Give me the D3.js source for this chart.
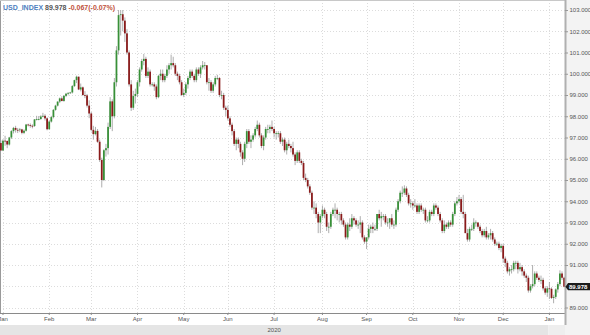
<!DOCTYPE html>
<html><head><meta charset="utf-8">
<script src="https://cdn.jsdelivr.net/npm/d3@7"></script>
<style>body{margin:0;background:#fff}svg{display:block}</style>
</head><body>
<svg id="c" width="590" height="335"></svg>
<script>
// ---- data ----
const symbol = "USD_INDEX";
const lastPrice = "89.978";
const change = "-0.067(-0.07%)";
const firstDay = "2019-12-31", lastDay = "2021-01-13";
const holidays = ["2020-01-01", "2020-12-25", "2021-01-01"];
const yTicks = [89, 90, 91, 92, 93, 94, 95, 96, 97, 98, 99, 100, 101, 102, 103];

const opens = [96.74,
 96.39,96.85,96.84,96.67,97.00,97.30,97.45,97.36,97.35,97.38,97.22,97.32,97.61,97.58,97.55,97.54,97.85,97.87,97.87,97.99,98.02,97.90,
 97.39,97.75,97.96,98.30,98.50,98.69,98.84,98.72,98.96,99.06,99.10,99.12,99.42,99.70,99.86,99.26,99.36,99.00,98.98,98.50,
 98.13,97.36,97.16,97.31,96.80,95.94,95.00,96.40,96.50,97.50,98.70,98.00,99.60,101.10,102.76,102.80,102.50,101.90,101.00,99.50,98.40,98.95,
 99.05,99.60,100.20,100.60,100.70,99.90,100.10,99.50,99.50,99.40,98.90,99.90,100.00,99.70,99.90,100.20,100.40,100.50,100.40,100.00,99.90,99.60,
 99.00,99.10,99.50,99.80,100.10,99.90,99.70,100.20,100.00,100.30,100.40,100.40,99.60,99.60,99.20,99.50,99.80,99.80,99.00,99.00,98.40,
 98.30,97.90,97.60,97.30,96.70,96.90,96.70,96.30,96.00,96.70,97.30,96.80,96.90,97.10,97.40,97.60,97.10,96.60,97.00,97.40,97.40,97.50,
 97.40,97.20,97.20,97.20,96.80,96.90,96.40,96.70,96.60,96.50,96.20,95.90,96.30,95.90,95.80,95.10,95.00,94.70,94.40,93.70,93.70,93.40,93.00,
 93.30,93.60,93.40,92.80,92.80,93.40,93.60,93.60,93.40,93.40,93.10,92.90,92.30,92.90,92.80,93.20,93.10,92.90,92.90,93.00,92.30,
 92.10,92.30,92.70,92.80,92.70,92.70,93.40,93.20,93.30,93.30,93.00,93.00,93.20,92.90,92.90,93.60,94.00,94.40,94.40,94.60,94.30,93.90,
 93.90,93.80,93.80,93.50,93.80,93.60,93.60,93.10,93.10,93.50,93.40,93.80,93.70,93.40,93.10,92.60,92.90,92.80,93.00,92.90,93.40,93.90,
 94.00,94.10,93.50,93.40,92.50,92.20,92.70,92.70,93.00,93.00,92.80,92.60,92.40,92.60,92.30,92.40,92.50,92.20,92.00,92.00,91.80,
 91.90,91.30,91.10,90.70,90.80,90.80,91.10,91.10,90.80,90.90,90.70,90.50,90.40,89.80,90.00,90.10,90.60,90.40,90.30,90.30,89.90,89.70,
 89.90,89.88,89.45,89.50,89.85,90.10,90.60,90.40];

const highs = [96.86,
 96.92,97.08,96.85,97.03,97.35,97.50,97.55,97.45,97.45,97.41,97.38,97.64,97.65,97.66,97.62,97.87,98.02,98.01,98.05,98.16,98.10,97.95,
 97.80,98.02,98.34,98.54,98.70,98.88,98.94,99.00,99.10,99.13,99.15,99.47,99.72,99.91,99.87,99.54,99.40,99.18,99.05,98.75,
 98.20,97.55,97.50,97.40,96.90,96.05,96.45,96.70,97.70,98.90,98.80,99.80,101.30,103.00,102.99,103.00,102.65,102.10,101.10,99.70,99.20,99.30,
 99.70,100.30,100.70,100.93,100.80,100.30,100.20,99.60,99.60,99.50,99.95,100.20,100.20,100.00,100.40,100.50,100.90,100.80,100.50,100.10,100.00,99.70,
 99.30,99.60,99.90,100.20,100.20,100.00,100.30,100.30,100.40,100.60,100.55,100.40,99.80,99.70,99.60,99.90,99.95,99.85,99.20,99.10,98.50,
 98.50,98.00,97.70,97.40,97.00,97.00,96.80,96.40,96.80,97.40,97.40,97.10,97.20,97.50,97.80,97.70,97.20,97.10,97.50,97.60,97.60,97.80,
 97.50,97.30,97.30,97.30,97.00,97.00,96.80,96.90,96.70,96.80,96.30,96.40,96.40,96.00,95.90,95.30,95.10,94.80,94.50,94.00,93.90,93.50,93.40,
 93.80,93.70,93.50,93.00,93.50,93.70,93.90,93.70,93.50,93.50,93.20,93.00,93.00,93.20,93.40,93.30,93.20,93.10,93.30,93.10,92.40,
 92.30,92.90,92.90,93.00,92.90,93.40,93.60,93.50,93.40,93.40,93.20,93.20,93.40,93.10,93.70,94.10,94.50,94.70,94.75,94.70,94.40,94.10,
 94.00,94.10,93.90,93.90,93.90,93.70,93.70,93.30,93.60,93.60,93.90,93.90,93.80,93.50,93.20,93.10,93.00,93.10,93.10,93.50,94.00,94.20,
 94.30,94.20,94.30,93.50,92.70,92.80,92.90,93.20,93.10,93.00,92.90,92.70,92.70,92.80,92.50,92.70,92.60,92.30,92.10,92.10,92.00,
 92.00,91.40,91.20,90.90,91.00,91.20,91.20,91.20,91.10,91.00,90.80,90.60,90.50,90.10,91.00,90.70,90.70,90.50,90.50,90.40,90.00,90.00,
 90.20,89.95,89.60,89.90,90.20,90.75,90.70,90.45];

const lows = [96.36,
 96.36,96.61,96.50,96.62,96.93,97.19,97.23,97.21,97.25,97.15,97.16,97.28,97.52,97.46,97.43,97.50,97.80,97.81,97.83,97.95,97.80,97.34,
 97.37,97.70,97.90,98.26,98.46,98.62,98.70,98.68,98.90,98.98,99.05,99.07,99.38,99.56,99.23,99.17,98.95,98.85,98.41,97.91,
 97.29,96.90,97.10,96.75,95.85,94.65,94.95,96.10,96.20,97.40,97.30,97.90,99.40,100.90,101.80,102.00,101.50,100.90,99.40,98.25,98.30,98.60,
 98.90,99.40,100.10,100.40,99.80,99.80,99.40,99.40,99.20,98.80,98.85,99.70,99.60,99.60,99.80,100.00,100.20,100.30,99.90,99.70,99.50,98.95,
 98.90,99.00,99.30,99.70,99.80,99.60,99.60,99.90,99.80,100.20,100.20,99.50,99.20,99.10,99.10,99.40,99.70,98.90,98.80,98.30,98.00,
 97.80,97.50,97.10,96.60,96.40,96.50,96.10,95.70,95.85,96.50,96.70,96.50,96.80,97.00,97.30,97.00,96.50,96.40,96.90,97.20,97.20,97.30,
 97.00,96.90,97.00,96.70,96.60,96.30,96.20,96.50,96.30,96.10,95.70,95.80,95.80,95.70,95.00,94.90,94.60,94.30,93.60,93.40,93.20,92.50,92.50,
 93.20,93.20,92.60,92.50,92.70,93.30,93.20,93.10,93.00,92.90,92.80,92.20,92.20,92.60,92.70,92.90,92.80,92.70,92.50,92.20,92.00,
 91.75,92.20,92.50,92.50,92.60,92.60,93.10,92.80,93.10,92.90,92.80,92.70,92.80,92.70,92.80,93.50,93.90,94.20,94.30,94.20,93.80,93.70,
 93.60,93.70,93.40,93.40,93.50,93.40,93.00,93.00,93.00,93.30,93.30,93.60,93.30,93.00,92.50,92.50,92.70,92.70,92.80,92.80,93.30,93.80,
 93.90,93.40,93.20,92.50,92.10,92.10,92.60,92.60,92.80,92.70,92.50,92.30,92.30,92.20,92.20,92.20,92.10,91.90,91.90,91.70,91.60,
 91.10,90.90,90.60,90.50,90.60,90.70,90.80,90.60,90.70,90.50,90.40,90.20,89.70,89.70,89.90,90.00,90.30,90.20,90.10,89.80,89.60,89.50,
 89.40,89.40,89.20,89.40,89.70,90.00,90.30,89.95];

const closes = [96.39,
 96.85,96.84,96.67,97.00,97.30,97.45,97.36,97.35,97.38,97.22,97.32,97.61,97.58,97.55,97.54,97.85,97.87,97.87,97.99,98.02,97.90,97.39,
 97.75,97.96,98.30,98.50,98.69,98.84,98.72,98.96,99.06,99.10,99.12,99.42,99.70,99.86,99.26,99.36,99.00,98.98,98.50,98.13,
 97.36,97.16,97.31,96.80,95.94,95.00,96.40,96.50,97.50,98.70,98.00,99.60,101.10,102.76,102.80,102.50,101.90,101.00,99.50,98.40,98.95,99.05,
 99.60,100.20,100.60,100.70,99.90,100.10,99.50,99.50,99.40,98.90,99.90,100.00,99.70,99.90,100.20,100.40,100.50,100.40,100.00,99.90,99.60,99.00,
 99.10,99.50,99.80,100.10,99.90,99.70,100.20,100.00,100.30,100.40,100.40,99.60,99.60,99.20,99.50,99.80,99.80,99.00,99.00,98.40,98.30,
 97.90,97.60,97.30,96.70,96.90,96.70,96.30,96.00,96.70,97.30,96.80,96.90,97.10,97.40,97.60,97.10,96.60,97.00,97.40,97.40,97.50,97.40,
 97.20,97.20,97.20,96.80,96.90,96.40,96.70,96.60,96.50,96.20,95.90,96.30,95.90,95.80,95.10,95.00,94.70,94.40,93.70,93.70,93.40,93.00,93.30,
 93.60,93.40,92.80,92.80,93.40,93.60,93.60,93.40,93.40,93.10,92.90,92.30,92.90,92.80,93.20,93.10,92.90,92.90,93.00,92.30,92.10,
 92.30,92.70,92.80,92.70,92.70,93.40,93.20,93.30,93.30,93.00,93.00,93.20,92.90,92.90,93.60,94.00,94.40,94.40,94.60,94.30,93.90,93.90,
 93.80,93.80,93.50,93.80,93.60,93.60,93.10,93.10,93.50,93.40,93.80,93.70,93.40,93.10,92.60,92.90,92.80,93.00,92.90,93.40,93.90,94.00,
 94.10,93.50,93.40,92.50,92.20,92.70,92.70,93.00,93.00,92.80,92.60,92.40,92.60,92.30,92.40,92.50,92.20,92.00,92.00,91.80,91.90,
 91.30,91.10,90.70,90.80,90.80,91.10,91.10,90.80,90.90,90.70,90.50,90.40,89.80,90.00,90.10,90.60,90.40,90.30,90.30,89.90,89.70,89.90,
 89.88,89.45,89.50,89.85,90.10,90.60,90.40,89.978];

// ---- trading-day categories ----
const parse = d3.utcParse("%Y-%m-%d"), fmtDay = d3.utcFormat("%Y-%m-%d");
const dates = d3.utcDays(parse(firstDay), d3.utcDay.offset(parse(lastDay), 1))
  .filter(d => d.getUTCDay() % 6 !== 0 && !holidays.includes(fmtDay(d)));
const candles = dates.map((d, i) => ({d, i, o: opens[i], h: highs[i], l: lows[i], c: closes[i]}));

// ---- layout ----
const W = 590, H = 335, plotR = 565, plotB = 313, labelB = 325;
const FONT = "Liberation Sans, Arial, sans-serif";
const svg = d3.select("#c");
const x = d3.scaleBand().domain(d3.range(dates.length)).range([0, plotR]).paddingInner(0.16).paddingOuter(0);
const cx = i => x(i) + x.bandwidth() / 2;
const y = d3.scaleLinear().domain([89, 103]).range([307.5, 10]);

// backgrounds
svg.append("rect").attr("x", 0).attr("y", 0).attr("width", W).attr("height", H).attr("fill", "#fff");
svg.append("rect").attr("x", plotR).attr("y", 0).attr("width", W - plotR).attr("height", H).attr("fill", "#f3f3f3");

// month starts and year bands
const monthIdx = candles.filter((c, i) => i > 0 && c.d.getUTCMonth() !== candles[i - 1].d.getUTCMonth()).map(c => c.i);
const jan21 = candles.find(c => c.d.getUTCFullYear() === 2021).i;
const yearEdge = x(jan21) - x.step() * 0.08;
svg.append("rect").attr("x", 0).attr("y", labelB).attr("width", yearEdge).attr("height", H - labelB).attr("fill", "#e5e5e5");
svg.append("rect").attr("x", yearEdge).attr("y", labelB).attr("width", plotR - yearEdge).attr("height", H - labelB).attr("fill", "#eeeeee");
svg.append("text").attr("x", yearEdge / 2).attr("y", 332.3).attr("text-anchor", "middle")
  .attr("font-family", FONT).attr("font-size", 6).attr("fill", "#555").text("2020");

// grid
const g = svg.append("g");
g.selectAll("line.h").data(yTicks).join("line").attr("class", "h")
  .attr("x1", 0).attr("x2", plotR).attr("y1", d => Math.round(y(d)) + 0.5).attr("y2", d => Math.round(y(d)) + 0.5)
  .attr("stroke", "#dcdcdc").attr("stroke-dasharray", "1,2");
g.selectAll("line.v").data(monthIdx).join("line").attr("class", "v")
  .attr("x1", d => Math.round(cx(d)) + 0.5).attr("x2", d => Math.round(cx(d)) + 0.5).attr("y1", 0).attr("y2", plotB)
  .attr("stroke", "#dcdcdc").attr("stroke-dasharray", "1,2");

// frame
svg.append("line").attr("x1", 0.5).attr("x2", 0.5).attr("y1", 0).attr("y2", plotB).attr("stroke", "#9a9a9a");
svg.append("line").attr("x1", 0).attr("x2", plotR).attr("y1", 0.5).attr("y2", 0.5).attr("stroke", "#c8c8c8");

// candles
const cg = svg.append("g");
cg.selectAll("line.w").data(candles).join("line").attr("class", "w")
  .attr("x1", d => cx(d.i)).attr("x2", d => cx(d.i)).attr("y1", d => y(d.h)).attr("y2", d => y(d.l))
  .attr("stroke", "#999").attr("stroke-width", 0.8);
cg.selectAll("rect").data(candles).join("rect")
  .attr("x", d => x(d.i)).attr("width", x.bandwidth())
  .attr("y", d => y(Math.max(d.o, d.c)))
  .attr("height", d => Math.max(0.8, Math.abs(y(d.o) - y(d.c))))
  .attr("fill", d => d.c >= d.o ? "#389038" : "#8a1a1a");

// x axis
const fmtMonth = d3.utcFormat("%b");
const xAxis = d3.axisBottom(x).tickValues(monthIdx).tickFormat(i => fmtMonth(dates[i])).tickSize(2).tickPadding(2);
const xa = svg.append("g").attr("transform", `translate(0,${plotB})`).call(xAxis);
xa.select(".domain").attr("stroke", "#8a8a8a").attr("d", `M0,0.5H${plotR}`);
xa.selectAll(".tick line").attr("stroke", "#8a8a8a");
xa.selectAll("text").attr("font-family", FONT).attr("font-size", 6).attr("fill", "#555");

// y axis
const yAxis = d3.axisRight(y).tickValues(yTicks).tickFormat(d3.format(".3f")).tickSize(3).tickPadding(1.5);
const ya = svg.append("g").attr("transform", `translate(${plotR},0)`).call(yAxis);
ya.select(".domain").attr("stroke", "#b0b0b0").attr("stroke-width", 2).attr("d", `M0.5,0V${labelB}`);
ya.selectAll(".tick line").attr("stroke", "#999");
ya.selectAll("text").attr("font-family", FONT).attr("font-size", 6).attr("fill", "#555");

// last price marker
const lp = +lastPrice, ly = y(lp);
svg.append("path").attr("d", `M${plotR + 0.5},${ly} L${plotR + 3},${ly - 3.6} H${W + 2} V${ly + 3.6} H${plotR + 3} Z`).attr("fill", "#1c1c1c");
svg.append("text").attr("x", plotR + 4).attr("y", ly).attr("dy", "0.35em")
  .attr("font-family", FONT).attr("font-size", 6).attr("font-weight", "bold")
  .attr("fill", "#fff").text(lastPrice);

// header
const ht = svg.append("text").attr("x", 3).attr("y", 9.5)
  .attr("font-family", FONT).attr("font-size", 7).attr("font-weight", "bold");
ht.append("tspan").attr("fill", "#4f7fc0").text(symbol + " ");
ht.append("tspan").attr("fill", "#555").text(lastPrice + " ");
ht.append("tspan").attr("fill", "#c0503a").text(change);
</script>
</body></html>
